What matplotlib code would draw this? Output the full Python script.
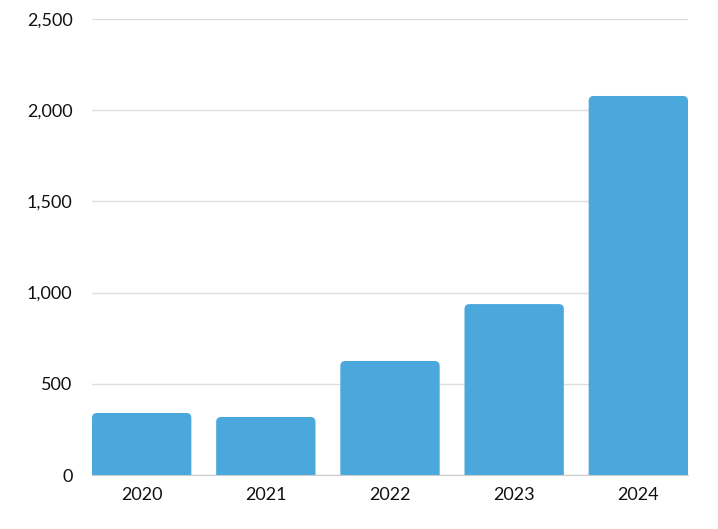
import matplotlib.pyplot as plt
from matplotlib.patches import FancyBboxPatch
from matplotlib.ticker import FuncFormatter

years = ["2020", "2021", "2022", "2023", "2024"]
values = [340, 318, 625, 937, 2078]
yticks = [0, 500, 1000, 1500, 2000, 2500]

barColor = "#4aa8dd"
plt.rcParams['font.family'] = ['Lato', 'DejaVu Sans']

fig = plt.figure(figsize=(7.18, 5.29), dpi=100)
ax = fig.add_axes([92 / 718, 54 / 529, 596 / 718, 456 / 529])

xs = list(range(len(years)))
width = 0.8
ax.set_xlim(-0.4, len(years) - 0.6)
ax.set_ylim(0, 2500)

axW = 596
axH = 456
xPerPx = (len(years) - 0.2) / axW
yPerPx = 2500 / axH
radius = 5 * xPerPx
below = 10 * yPerPx  # start under the axis so the bottom corners are clipped off
for x, v in zip(xs, values):
    box = FancyBboxPatch((x - width / 2, -below), width, v + below,
                         boxstyle="round,pad=0,rounding_size=%f" % radius,
                         mutation_aspect=yPerPx / xPerPx,
                         facecolor=barColor, edgecolor="none", zorder=3)
    ax.add_patch(box)

ax.set_xticks(xs)
ax.set_xticklabels(years)
ax.set_yticks(yticks)
ax.yaxis.set_major_formatter(FuncFormatter(lambda v, p: "{:,.0f}".format(v)))
ax.grid(axis="y", color="#dddddd", linewidth=1, zorder=0)
ax.tick_params(axis="both", length=0, labelsize=13, colors="#111111")
ax.tick_params(axis="x", pad=9)
ax.tick_params(axis="y", pad=14)
for s in ["top", "right", "left"]:
    ax.spines[s].set_visible(False)
ax.spines["bottom"].set_color("#cccccc")
ax.spines["bottom"].set_zorder(4)

fig.savefig("out.png", dpi=100)
